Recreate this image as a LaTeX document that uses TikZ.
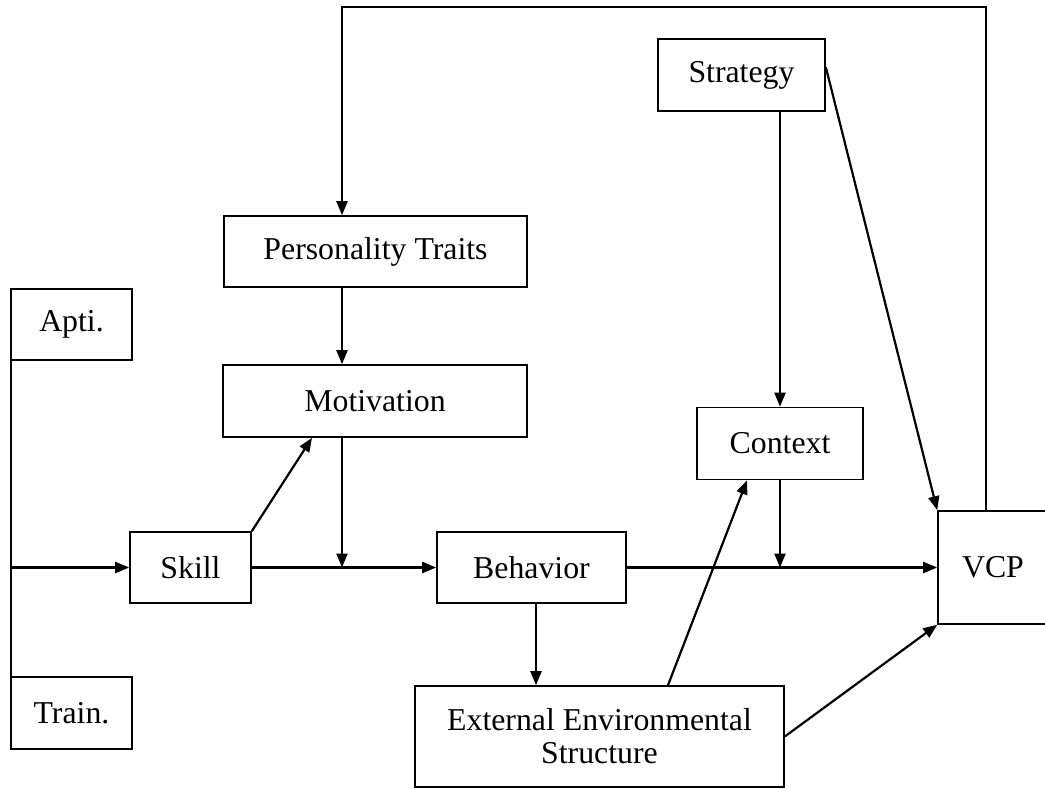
\documentclass[tikz,border=0pt]{standalone}
\usepackage{fontspec}
\setmainfont{Liberation Serif}
\usetikzlibrary{arrows.meta}
\tikzset{
  box/.style={draw, line width=1.6pt, inner sep=0pt, font=\fontsize{31.8}{36}\selectfont, align=center},
  arr/.style={line width=2.2pt, -{Triangle[length=14pt,width=11pt]}},
  ln/.style={line width=2.2pt}
}
\begin{document}
\begin{tikzpicture}[x=1pt,y=-1pt]
\useasboundingbox (0,0) rectangle (1045,789);
% boxes
\node[box, minimum width=167pt, minimum height=72pt] (strat) at (741.5,75) {Strategy};
\node[box, minimum width=303pt, minimum height=71pt] (pers) at (375.5,251.5) {Personality Traits};
\node[box, minimum width=304pt, minimum height=72pt] (motiv) at (375,401) {Motivation};
\node[box, minimum width=121pt, minimum height=71pt] (apti) at (71.5,324.5) {Apti.};
\node[box, minimum width=121pt, minimum height=72pt] (train) at (71.5,713) {Train.};
\node[box, minimum width=121pt, minimum height=71pt] (skill) at (190.5,567.5) {Skill};
\node[box, minimum width=189pt, minimum height=71pt] (behav) at (531.5,567.5) {Behavior};
\node[box, minimum width=166pt, minimum height=72pt] (ctx) at (780,443.5) {Context};
\node[box, minimum width=110pt, minimum height=113pt] (vcp) at (993,567.5) {VCP};
\node[box, minimum width=369pt, minimum height=101pt] (ees) at (599.5,736.5) {External Environmental\\[-3pt]Structure};
% helper coordinates
\coordinate (lt) at (11,338);
\coordinate (lb) at (11,702);
\coordinate (m1) at (342,566);
\coordinate (topl) at (342,7);
\coordinate (topr) at (986,7);
\coordinate (bx) at ([xshift=4.5pt]behav.south);
% left bracket line
\draw[ln] (lt) -- (lb);
\draw[arr] (skill.west -| lt) -- (skill.west);
% main line
\draw[arr] (skill.east) -- (behav.west);
\draw[arr] (behav.east) -- (vcp.west);
% motivation chain
\draw[arr] (pers.south -| m1) -- (motiv.north -| m1);
\draw[arr] (motiv.south -| m1) -- (skill.east -| m1);
\draw[arr] (skill.north east) -- ([xshift=-63pt]motiv.south);
% strategy / context
\draw[arr] (strat.south -| ctx.north) -- (ctx.north);
\draw[arr] (ctx.south) -- (ctx.south |- behav.east);
\draw[arr] ([yshift=8pt]strat.east) -- (vcp.north west);
% behavior / ees
\draw[arr] (bx) -- (bx |- ees.north);
\draw[arr] ([xshift=68.5pt]ees.north) -- ([xshift=-33pt]ctx.south);
\draw[arr] (ees.east) -- (vcp.south west);
% feedback loop
\draw[arr] (vcp.north -| topr) -- (topr) -- (topl) -- (pers.north -| topl);
\end{tikzpicture}
\end{document}
